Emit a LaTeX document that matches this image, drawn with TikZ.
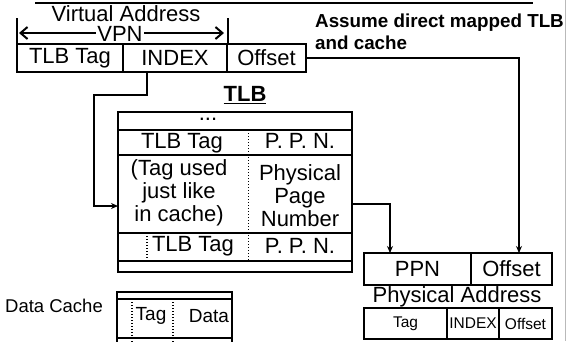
\documentclass[tikz,border=0pt]{standalone}
\usepackage{fontspec}
\setmainfont{Liberation Sans}
\usetikzlibrary{arrows.meta,calc}
\newcommand\txtbig{\fontsize{22}{23}\selectfont}
\newcommand\txtmid{\fontsize{19}{21}\selectfont}
\newcommand\txtsmall{\fontsize{15.5}{17}\selectfont}
\begin{document}
\begin{tikzpicture}[x=1pt,y=-1pt,
  cell/.style={draw,line width=1.5pt,inner sep=0pt,outer sep=0pt,font=\txtbig},
  lbl/.style={inner sep=0pt,outer sep=0pt,font=\txtbig,align=center},
  conn/.style={line width=1.4pt,-{Stealth[length=7pt,width=6pt]}},
  dots/.style={line width=1.3pt,dash pattern=on 1.2pt off 1.8pt},
  vpnarrow/.style={line width=2pt,{Straight Barb[length=7pt,width=12pt,line width=2pt]}-{Straight Barb[length=7pt,width=12pt,line width=2pt]}}]
\useasboundingbox (0,0) rectangle (566,341);
\clip (0,0) rectangle (566,341);
% top rule and right border
\coordinate (ra) at (35,3);
\coordinate (rb) at (533,3);
\draw[line width=2.4pt] (ra) -- (rb);
\coordinate (ga) at (565,0);
\coordinate (gb) at (565,341);
\draw[gray!55,line width=1pt] (ga) -- (gb);
% virtual address
\node[cell,minimum width=106pt,minimum height=28pt] (vtag) at (70,58) {TLB Tag};
\node[cell,minimum width=104pt,minimum height=28pt] (vidx) at (175,58) {INDEX};
\node[cell,minimum width=79pt,minimum height=28pt] (voff) at (266.5,58) {Offset};
\node[lbl] (va) at (126,14) {Virtual Address};
\coordinate (t1) at (17,18);
\coordinate (t2) at (228,18);
\draw[line width=1.5pt] (t1) -- (vtag.north west);
\draw[line width=1.5pt] (t2) -- (t2 |- vidx.north);
\coordinate (a1) at (19,33);
\coordinate (a2) at (224,33);
\draw[vpnarrow] (a1) -- (a2);
\node[lbl,fill=white,inner xsep=1pt] (vpn) at (120,34) {VPN};
% note
\node[inner sep=0pt,anchor=north west,align=left,font=\fontsize{18.8}{22}\selectfont\bfseries] (note) at (315,14) {Assume direct mapped TLB\\and cache};
% TLB
\node[inner sep=0pt,font=\fontsize{22}{24}\selectfont\bfseries] (tlbt) at (245,95) {\underline{TLB}};
\node[cell,minimum width=234pt,minimum height=160pt] (tlb) at (235,192) {};
\node[cell,minimum width=234pt,minimum height=18pt] (r0) at (235,121) {};
\node[cell,minimum width=234pt,minimum height=25pt] (r1) at (235,142.5) {};
\node[cell,minimum width=234pt,minimum height=78pt] (r2) at (235,194) {};
\node[cell,minimum width=234pt,minimum height=28pt] (r3) at (235,247) {};
\coordinate (d1) at (248.5,130);
\coordinate (d2) at (248.5,261);
\draw[dots] (d1) -- (d2);
\coordinate (d3) at (147,236);
\coordinate (d4) at (147,260);
\draw[dots] (d3) -- (d4);
\node[lbl] (dots0) at (208,119) {...};
\node[lbl] (tt1) at (182,143) {TLB Tag};
\node[lbl] (pp1) at (300,141) {P.\ P.\ N.};
\node[lbl] (tu) at (179,193) {(Tag used\\just like\\in cache)};
\node[lbl] (ppn2) at (300,196) {Physical\\Page\\Number};
\node[lbl] (tt2) at (193,246) {TLB Tag};
\node[lbl] (pp2) at (300,246) {P.\ P.\ N.};
% physical address
\node[cell,minimum width=107pt,minimum height=32pt] (ppn) at (417.5,269) {PPN};
\node[cell,minimum width=81pt,minimum height=32pt] (poff) at (511.5,269) {Offset};
\node[lbl] (pa) at (457,297) {Physical Address};
\node[cell,minimum width=83pt,minimum height=31pt,font=\txtsmall] (ptag) at (405.5,323.5) {Tag};
\node[cell,minimum width=52pt,minimum height=31pt,font=\txtsmall] (pidx) at (473,323.5) {INDEX};
\node[cell,minimum width=53pt,minimum height=31pt,font=\txtsmall] (poff2) at (525.5,323.5) {Offset};
% data cache
\node[inner sep=0pt,font=\fontsize{18.5}{20}\selectfont] (dc) at (54,306) {Data Cache};
\node[cell,minimum width=115pt,minimum height=7pt] (c0) at (174.5,295.5) {};
\node[cell,minimum width=115pt,minimum height=39pt] (c1) at (174.5,318.5) {};
\node[cell,minimum width=115pt,minimum height=39pt] (c2) at (174.5,357.5) {};
\coordinate (e1) at (132,299);
\coordinate (e2) at (132,380);
\coordinate (e3) at (173,299);
\coordinate (e4) at (173,380);
\draw[dots] (e1) -- (e2);
\draw[dots] (e3) -- (e4);
\node[lbl,font=\txtmid] (ct1) at (151,316) {Tag};
\node[lbl,font=\txtmid] (cd1) at (209,316) {Data};
\node[lbl,font=\txtmid] (ct2) at (151,355) {Tag};
\node[lbl,font=\txtmid] (cd2) at (209,355) {Data};
% connectors
\coordinate (i1) at (94,95);
\coordinate (i2) at (0,206);
\draw[conn] ([xshift=-28pt]vidx.south) |- (i1) |- (tlb.west |- i2);
\coordinate (o1) at (519,0);
\draw[conn] (voff.east) -| (poff.north -| o1);
\coordinate (p1) at (0,204);
\coordinate (p2) at (390,0);
\draw[conn] (tlb.east |- p1) -| (ppn.north -| p2);
\end{tikzpicture}
\end{document}
